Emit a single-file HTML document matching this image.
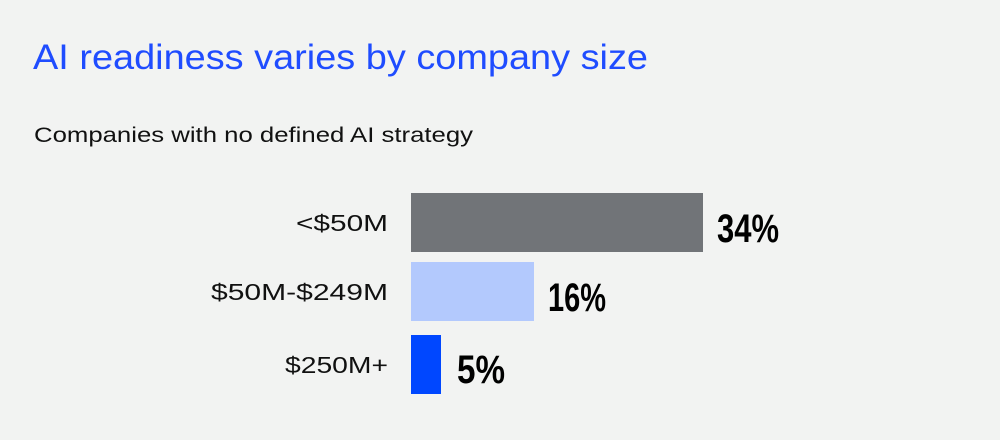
<!DOCTYPE html>
<html><head><meta charset="utf-8"><style>
html,body{margin:0;padding:0;background:#f2f3f2;}
svg{display:block}
</style></head><body>
<svg width="1000" height="440" xmlns="http://www.w3.org/2000/svg">
<rect width="1000" height="440" fill="#f2f3f2"/>
<text x="33" y="69" font-family="Liberation Sans, sans-serif" font-size="35" fill="#1f4cff" textLength="615" lengthAdjust="spacingAndGlyphs">AI readiness varies by company size</text>
<text x="34" y="142" font-family="Liberation Sans, sans-serif" font-size="21" fill="#111" textLength="439" lengthAdjust="spacingAndGlyphs">Companies with no defined AI strategy</text>
<rect x="411" y="193" width="292" height="59" fill="#717478"/>
<rect x="411" y="262" width="123" height="59" fill="#b3c9fd"/>
<rect x="411" y="335" width="30" height="59" fill="#0047ff"/>
<g font-family="Liberation Sans, sans-serif" font-size="23" fill="#111">
<text x="296" y="231" textLength="92" lengthAdjust="spacingAndGlyphs">&lt;$50M</text>
<text x="211" y="300" textLength="177" lengthAdjust="spacingAndGlyphs">$50M-$249M</text>
<text x="285" y="373" textLength="103" lengthAdjust="spacingAndGlyphs">$250M+</text>
</g>
<g font-family="Liberation Sans Narrow, Liberation Sans, sans-serif" font-weight="bold" font-size="40" fill="#000">
<text x="717" y="242" textLength="62" lengthAdjust="spacingAndGlyphs">34%</text>
<text x="548" y="311" textLength="58" lengthAdjust="spacingAndGlyphs">16%</text>
<text x="457" y="383" textLength="48" lengthAdjust="spacingAndGlyphs">5%</text>
</g>
</svg>
</body></html>
